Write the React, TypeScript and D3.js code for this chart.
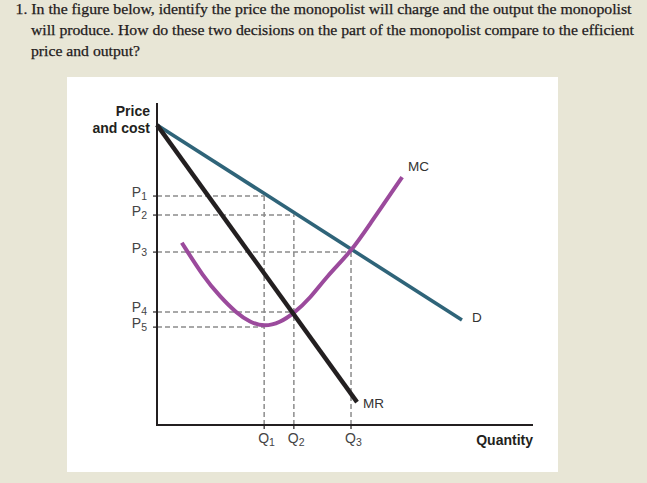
import React from "react";
import * as d3 from "d3";

const titleLines = [
  "1. In the figure below, identify the price the monopolist will charge and the output the monopolist",
  "will produce. How do these two decisions on the part of the monopolist compare to the efficient",
  "price and output?",
];

const priceSubs = ["1", "2", "3", "4", "5"];
const priceLevels = [71.1, 65.2, 53.7, 35.1, 30.4];
const priceGuideTo = [28.5, 36.4, 51.6, 36.4, 28.5];

const quantitySubs = ["1", "2", "3"];
const quantityLevels = [28.5, 36.4, 51.6];
const quantityGuideTo = [71.1, 65.2, 53.7];

const demandQ = [0, 81.1];
const demandP = [93.2, 32.6];
const mrQ = [0, 53.2];
const mrP = [93.2, 7.1];
const mcQ = [6.6, 12.3, 16.8, 21.2, 24.7, 28.6, 32.7, 36.4, 40.7, 45.1, 51.7, 56.1, 65.2];
const mcP = [56.6, 46.1, 39.8, 34.7, 31.9, 30.5, 31.8, 34.7, 39.3, 46.1, 54.0, 61.5, 77.0];

export default function App() {
  const x = d3.scaleLinear().domain([0, 100]).range([157, 533]);
  const y = d3.scaleLinear().domain([0, 100]).range([425, 103]);
  const line = d3
    .line<[number, number]>()
    .x((d) => x(d[0]))
    .y((d) => y(d[1]));
  const smooth = d3
    .line<[number, number]>()
    .x((d) => x(d[0]))
    .y((d) => y(d[1]))
    .curve(d3.curveBasis);

  const demand = demandQ.map((q, i) => [q, demandP[i]] as [number, number]);
  const mr = mrQ.map((q, i) => [q, mrP[i]] as [number, number]);
  const mc = mcQ.map((q, i) => [q, mcP[i]] as [number, number]);

  const labelFont = "'Liberation Sans', Arial, Helvetica, sans-serif";
  const dash = "#8c8c8c";

  return (
    <svg
      width={647}
      height={483}
      style={{ position: "absolute", left: 0, top: 0, display: "block" }}
    >
      <rect x={0} y={0} width={647} height={483} fill="#e8e6d6" />
      {titleLines.map((t, i) => (
        <text
          key={i}
          x={i === 0 ? 15.5 : 31}
          y={14 + i * 21}
          fontFamily="'Liberation Serif', 'Times New Roman', serif"
          fontSize={15}
          fill="#1e1a1b"
          stroke="#1e1a1b"
          strokeWidth={0.25}
          textLength={i === 0 ? 616 : i === 1 ? 603 : 109}
          lengthAdjust="spacingAndGlyphs"
        >
          {t}
        </text>
      ))}
      <rect x={67} y={77} width={491} height={395} fill="#ffffff" />

      {/* dashed guides */}
      {priceLevels.map((p, i) => (
        <line
          key={"ph" + i}
          x1={x(0)}
          x2={x(priceGuideTo[i])}
          y1={y(p)}
          y2={y(p)}
          stroke={dash}
          strokeWidth={1.5}
          strokeDasharray="5,3"
        />
      ))}
      {quantityLevels.map((q, i) => (
        <line
          key={"qv" + i}
          x1={x(q)}
          x2={x(q)}
          y1={y(0)}
          y2={y(quantityGuideTo[i])}
          stroke={dash}
          strokeWidth={1.5}
          strokeDasharray="5,3"
        />
      ))}

      {/* ticks */}
      {priceLevels.map((p, i) => (
        <line key={"pt" + i} x1={x(0) - 4} x2={x(0)} y1={y(p)} y2={y(p)} stroke="#231f20" strokeWidth={1.2} />
      ))}
      {quantityLevels.map((q, i) => (
        <line key={"qt" + i} x1={x(q)} x2={x(q)} y1={y(0)} y2={y(0) + 4} stroke="#231f20" strokeWidth={1.2} />
      ))}

      {/* curves */}
      <path d={line(demand) || ""} fill="none" stroke="#2f6479" strokeWidth={3.6} />
      <path d={smooth(mc) || ""} fill="none" stroke="#9b4a9c" strokeWidth={4} />
      <path d={line(mr) || ""} fill="none" stroke="#231f20" strokeWidth={4.4} />

      {/* axes */}
      <path
        d={`M${x(0)},${y(100)}V${y(0)}H${x(100)}`}
        fill="none"
        stroke="#231f20"
        strokeWidth={2}
      />

      {/* price labels */}
      {priceLevels.map((p, i) => (
        <text
          key={"pl" + i}
          x={147}
          y={y(p) + 0.5}
          textAnchor="end"
          fontFamily={labelFont}
          fontSize={14}
          fill="#444"
        >
          P
          <tspan fontSize={10.5} dy={3}>
            {priceSubs[i]}
          </tspan>
        </text>
      ))}
      {quantityLevels.map((q, i) => (
        <text
          key={"ql" + i}
          x={x(q) - 6}
          y={443}
          fontFamily={labelFont}
          fontSize={14}
          fill="#444"
        >
          Q
          <tspan fontSize={10.5} dy={3}>
            {quantitySubs[i]}
          </tspan>
        </text>
      ))}

      <text x={150} y={116} textAnchor="end" fontFamily={labelFont} fontSize={14} fontWeight="bold" fill="#231f20">
        Price
      </text>
      <text x={150} y={133} textAnchor="end" fontFamily={labelFont} fontSize={14} fontWeight="bold" fill="#231f20">
        and cost
      </text>
      <text x={533} y={445} textAnchor="end" fontFamily={labelFont} fontSize={14} fontWeight="bold" fill="#231f20">
        Quantity
      </text>

      <text x={408} y={171} fontFamily={labelFont} fontSize={13.5} fill="#333">
        MC
      </text>
      <text x={472} y={322} fontFamily={labelFont} fontSize={13.5} fill="#333">
        D
      </text>
      <text x={363} y={408} fontFamily={labelFont} fontSize={13.5} fill="#333">
        MR
      </text>
    </svg>
  );
}
